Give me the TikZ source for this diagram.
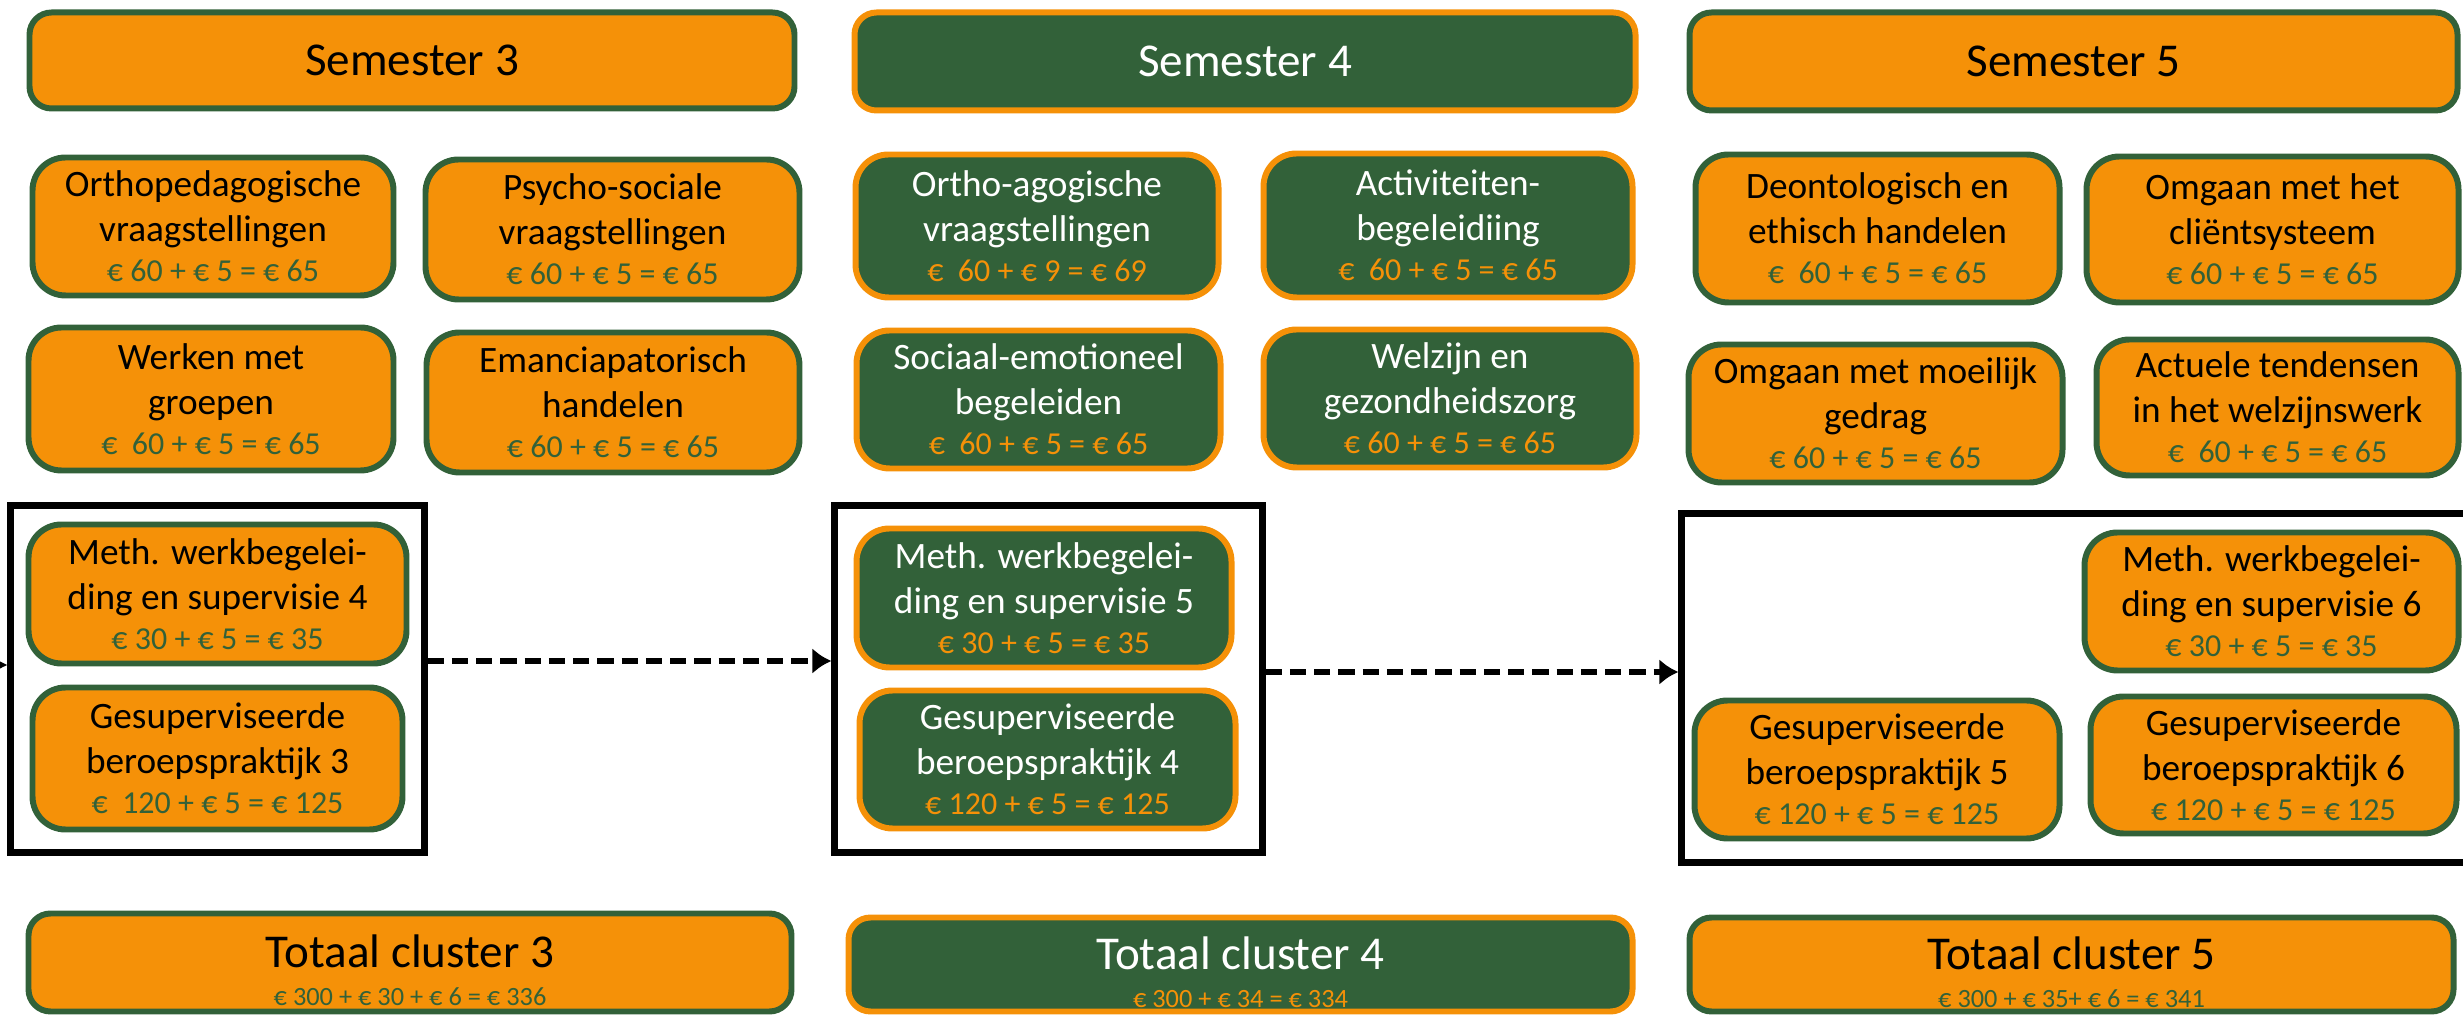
\documentclass[tikz,border=0pt]{standalone}
\usepackage{fontspec}
\setmainfont{Carlito}
\usetikzlibrary{arrows.meta}
\definecolor{orng}{RGB}{245,145,8}
\definecolor{grn}{RGB}{50,97,57}
\newcommand\prc[1]{{\fontsize{9.1pt}{11pt}\selectfont #1}}
\newcommand\pgn[1]{\prc{\textcolor{grn}{#1}}}
\newcommand\por[1]{\prc{\textcolor{orng}{#1}}}
\newcommand\tgn[1]{{\fontsize{7.5pt}{9pt}\selectfont\textcolor{grn}{#1}}}
\newcommand\tor[1]{{\fontsize{7.5pt}{9pt}\selectfont\textcolor{orng}{#1}}}
\newcommand\tstrut{\rule{0pt}{13.6pt}}
\tikzset{
 base/.style={rectangle, line width=1.7pt, rounded corners=3.3mm, align=center, inner sep=0pt,
   font=\fontsize{10.6pt}{12.8pt}\selectfont},
 obox/.style={base, fill=orng, draw=grn, text=black},
 gbox/.style={base, fill=grn, draw=orng, text=white},
 wide/.style={rounded corners=2.2mm, font=\fontsize{13.4pt}{16pt}\selectfont},
 frame/.style={draw=black, line width=1.8pt, rectangle, inner sep=0pt},
 flow/.style={line width=1.8pt, dash pattern=on 4.6pt off 2.3pt, -{Latex[length=1.9mm,width=2.6mm]}},
}
\begin{document}
\begin{tikzpicture}[x=0.1mm,y=-0.1mm]
\useasboundingbox (0,0) rectangle (2463,1019);
% frames
\node[frame, minimum width=41.4mm, minimum height=34.7mm] (r1) at (217.5,679) {};
\node[frame, minimum width=42.8mm, minimum height=34.7mm] (r2) at (1048.5,679) {};
\node[frame, minimum width=79.1mm, minimum height=34.9mm] (r3) at (2077,688) {};
% column 1
\node[obox, wide, minimum width=76.5mm, minimum height=9.6mm] (sem3) at (412,60.5) {Semester 3};
\node[obox, minimum width=36.1mm, minimum height=13.8mm] (c3a) at (213,226.5) {Orthopedagogische\\vraagstellingen\\[-1.4pt]\pgn{€ 60 + € 5 = € 65}};
\node[obox, minimum width=37.4mm, minimum height=14.0mm] (c3b) at (612.5,229.5) {Psycho-sociale\\vraagstellingen\\[-1.4pt]\pgn{€ 60 + € 5 = € 65}};
\node[obox, minimum width=36.5mm, minimum height=14.3mm] (c3c) at (211,399) {Werken met\\groepen\\[-1.4pt]\pgn{€\ \ 60 + € 5 = € 65}};
\node[obox, minimum width=37.3mm, minimum height=14.0mm] (c3d) at (613,402.5) {Emanciapatorisch\\handelen\\[-1.4pt]\pgn{€ 60 + € 5 = € 65}};
\node[obox, minimum width=37.8mm, minimum height=13.9mm] (meth4) at (217.5,594) {Meth. werkbegelei-\\ding en supervisie 4\\[-1.4pt]\pgn{€ 30 + € 5 = € 35}};
\node[obox, minimum width=37.0mm, minimum height=14.2mm] (gsp3) at (217.5,758.5) {Gesuperviseerde\\beroepspraktijk 3\\[-1.4pt]\pgn{€\ \ 120 + € 5 = € 125}};
\node[obox, wide, minimum width=76.3mm, minimum height=9.8mm] (tot3) at (410,962.5) {\tstrut Totaal cluster 3\\[-5.2pt]\tgn{€ 300 + € 30 + € 6 = € 336}};
% column 2
\node[gbox, wide, minimum width=78.1mm, minimum height=9.8mm] (sem4) at (1245,61.5) {Semester 4};
\node[gbox, minimum width=36.3mm, minimum height=14.3mm] (c4a) at (1037,226) {Ortho-agogische\\vraagstellingen\\[-1.4pt]\por{€\ \ 60 + € 9 = € 69}};
\node[gbox, minimum width=36.9mm, minimum height=14.4mm] (c4b) at (1448,225.5) {Activiteiten-\\begeleidiing\\[-1.4pt]\por{€\ \ 60 + € 5 = € 65}};
\node[gbox, minimum width=36.4mm, minimum height=13.8mm] (c4c) at (1038.5,399.5) {Sociaal-emotioneel\\begeleiden\\[-1.4pt]\por{€\ \ 60 + € 5 = € 65}};
\node[gbox, minimum width=37.3mm, minimum height=13.8mm] (c4d) at (1450,398.5) {Welzijn en\\gezondheidszorg\\[-1.4pt]\por{€ 60 + € 5 = € 65}};
\node[gbox, minimum width=37.5mm, minimum height=13.9mm] (meth5) at (1044,598) {Meth. werkbegelei-\\ding en supervisie 5\\[-1.4pt]\por{€ 30 + € 5 = € 35}};
\node[gbox, minimum width=37.6mm, minimum height=13.8mm] (gsp4) at (1047.5,759.5) {Gesuperviseerde\\beroepspraktijk 4\\[-1.4pt]\por{€ 120 + € 5 = € 125}};
\node[gbox, wide, minimum width=78.4mm, minimum height=9.4mm] (tot4) at (1240.5,964.5) {\tstrut Totaal cluster 4\\[-5.2pt]\tor{€ 300 + € 34 = € 334}};
% column 3
\node[obox, wide, minimum width=76.8mm, minimum height=9.8mm] (sem5) at (2073.5,61.5) {Semester 5};
\node[obox, minimum width=36.4mm, minimum height=14.8mm] (c5a) at (1877.5,228.5) {Deontologisch en\\ethisch handelen\\[-1.4pt]\pgn{€\ \ 60 + € 5 = € 65}};
\node[obox, minimum width=37.2mm, minimum height=14.6mm] (c5b) at (2272.5,229.5) {Omgaan met het\\cliëntsysteem\\[-1.4pt]\pgn{€ 60 + € 5 = € 65}};
\node[obox, minimum width=37.4mm, minimum height=13.8mm] (c5c) at (1875.5,413.5) {Omgaan met moeilijk\\gedrag\\[-1.4pt]\pgn{€ 60 + € 5 = € 65}};
\node[obox, minimum width=36.2mm, minimum height=13.6mm] (c5d) at (2277.5,407.5) {Actuele tendensen\\in het welzijnswerk\\[-1.4pt]\pgn{€\ \ 60 + € 5 = € 65}};
\node[obox, minimum width=37.4mm, minimum height=13.8mm] (meth6) at (2271.5,601.5) {Meth. werkbegelei-\\ding en supervisie 6\\[-1.4pt]\pgn{€ 30 + € 5 = € 35}};
\node[obox, minimum width=36.5mm, minimum height=13.8mm] (gsp5) at (1877,769.5) {Gesuperviseerde\\beroepspraktijk 5\\[-1.4pt]\pgn{€ 120 + € 5 = € 125}};
\node[obox, minimum width=36.6mm, minimum height=13.7mm] (gsp6) at (2273.5,765) {Gesuperviseerde\\beroepspraktijk 6\\[-1.4pt]\pgn{€ 120 + € 5 = € 125}};
\node[obox, wide, minimum width=76.4mm, minimum height=9.4mm] (tot5) at (2071.5,964.5) {\tstrut Totaal cluster 5\\[-5.2pt]\tgn{€ 300 + € 35+ € 6 = € 341}};
% arrows
\coordinate (lft) at (-120,665);
\coordinate (a1) at (0,661);
\coordinate (a2) at (0,672);
\draw[flow] (lft) -- (lft -| r1.west);
\draw[flow] (r1.east |- a1) -- (r2.west |- a1);
\draw[flow] (r2.east |- a2) -- (r3.west |- a2);
\end{tikzpicture}
\end{document}
